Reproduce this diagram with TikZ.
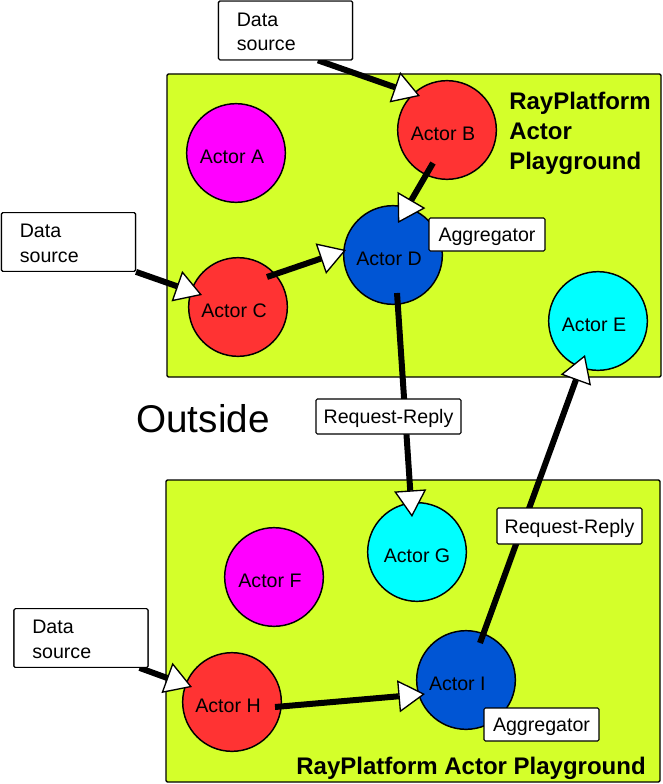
\documentclass[tikz,border=0pt]{standalone}
\usepackage{fontspec}
\setmainfont{Liberation Sans}
\usetikzlibrary{arrows.meta,calc}
\definecolor{pg}{RGB}{212,255,42}
\definecolor{actred}{RGB}{255,51,51}
\definecolor{actblue}{RGB}{0,85,212}
\definecolor{actmag}{RGB}{255,0,255}
\definecolor{actcyan}{RGB}{0,255,255}
\begin{document}
\begin{tikzpicture}[x=0.75pt,y=-0.75pt,
  every node/.style={font=\fontsize{14.7pt}{18.5pt}\selectfont},
  play/.style={draw, fill=pg, line width=1.1pt, inner sep=0pt, rounded corners=1pt},
  actor/.style={circle, draw, line width=1.1pt, minimum size=74pt, inner sep=0pt},
  atext/.style={inner sep=0pt, xshift=-3pt, yshift=-3pt},
  tag/.style={draw, fill=white, line width=0.8pt, rounded corners=1pt, inner sep=0pt, text depth=0pt},
  srcbox/.style={draw, fill=white, line width=0.8pt, rounded corners=1pt, inner sep=0pt, minimum width=100.5pt, minimum height=44pt},
  srctext/.style={inner sep=0pt, text width=73pt, align=left},
  arr/.style={line width=4.5pt, -{Triangle[length=20pt,width=24pt,fill=white,line width=1pt]}},
  title/.style={font=\fontsize{18pt}{22.5pt}\selectfont\bfseries, inner sep=0pt}
]
\useasboundingbox (0,0) rectangle (662,784);

% playgrounds
\node[play, minimum width=370.5pt, minimum height=227.25pt] (P1) at (414,225.5) {};
\node[play, minimum width=370.5pt, minimum height=226.5pt] (P2) at (413,631) {};

% titles
\node[title, anchor=west, align=left] (T1) at (509,133) {RayPlatform\\Actor\\Playground};
\node[title, anchor=base east] (T2) at (646,774) {RayPlatform Actor Playground};
\node[font=\fontsize{29pt}{34pt}\selectfont, anchor=base, inner sep=0pt] (out) at (203,432) {Outside};

% actors
\node[actor, fill=actmag, label={[atext]center:Actor A}] (A) at (236,153) {};
\node[actor, fill=actred, label={[atext]center:Actor B}] (B) at (447,130) {};
\node[actor, fill=actred, label={[atext]center:Actor C}] (C) at (238,307) {};
\node[actor, fill=actblue, label={[atext]center:Actor D}] (D) at (393,255) {};
\node[actor, fill=actcyan, label={[atext]center:Actor E}] (E) at (598,321) {};
\node[actor, fill=actmag, label={[atext]center:Actor F}] (F) at (274,577) {};
\node[actor, fill=actcyan, label={[atext, xshift=3pt]center:Actor G}] (G) at (417,552) {};
\node[actor, fill=actred, label={[atext]center:Actor H}] (H) at (232,702) {};
\node[actor, fill=actblue, label={[atext, xshift=-3.5pt]center:Actor I}] (I) at (466,680) {};

% data source boxes
\node[srcbox] (ds1) at (285.5,30.5) {};
\node[srcbox] (ds2) at (68.5,242) {};
\node[srcbox] (ds3) at (81,638) {};

% connectors
\draw[arr] ($(ds1.south west)+(100,0)$) -- ($(B)+(-27,-34)$);
\draw[arr] ($(B)+(-14,33)$) -- ($(D)+(5,-32)$);
\draw[arr] (ds2.south east) -- ($(C)+(-36,-12)$);
\draw[arr] ($(C)+(29,-30)$) -- ($(D)+(-47,-5)$);
\draw[arr] ($(D)+(4,38)$) -- ($(G)+(-5,-35)$);
\draw[arr] ($(I)+(14,-37)$) -- ($(E)+(-13,34)$);
\draw[arr] ($(ds3.south east)+(-9,0)$) -- ($(H)+(-40,-15)$);
\draw[arr] ($(H)+(43,5)$) -- ($(I)+(-41,14)$);

% data source boxes again, over the connector ends, with their text
\node[srcbox] at (ds1) {};
\node[srcbox] at (ds2) {};
\node[srcbox] at (ds3) {};
\node[srctext] (ds1t) at ($(ds1)+(0,1.5)$) {Data\\source};
\node[srctext] (ds2t) at ($(ds2)+(0,1.5)$) {Data\\source};
\node[srctext] (ds3t) at ($(ds3)+(0,1.5)$) {Data\\source};

% tags
\node[tag, minimum width=87pt, minimum height=24.75pt] (agg1) at (487,234.5) {Aggregator};
\node[tag, minimum width=86.25pt, minimum height=24.75pt] (agg2) at (541.5,724.5) {Aggregator};
\node[tag, minimum width=108.75pt, minimum height=26.25pt] (rr1) at (388.5,416.5) {Request-Reply};
\node[tag, minimum width=108.75pt, minimum height=27pt] (rr2) at (569.5,526) {Request-Reply};
\end{tikzpicture}
\end{document}
